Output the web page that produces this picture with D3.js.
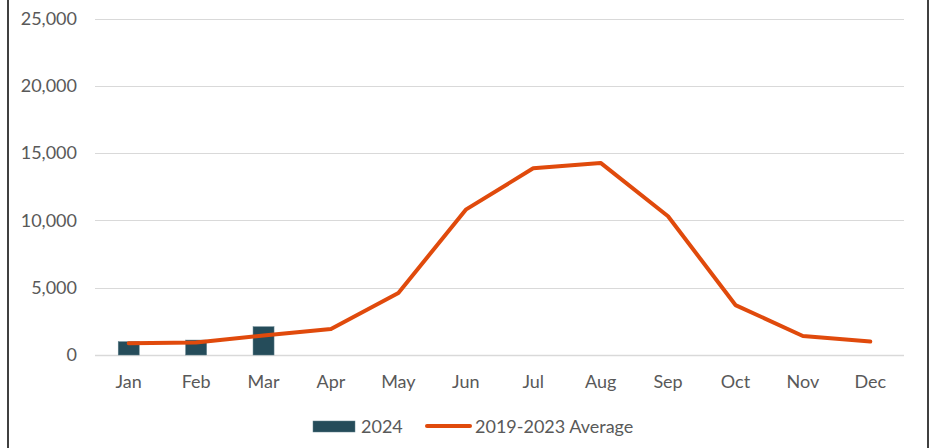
<!DOCTYPE html>
<html>
<head>
<meta charset="utf-8">
<script src="https://cdn.jsdelivr.net/npm/d3@7"></script>
<style>
  body { margin: 0; background: #fff; }
  text { font-family: Lato, "Open Sans", sans-serif; fill: #595959; }
</style>
</head>
<body>
<div id="chart"></div>
<script>
const months = ["Jan", "Feb", "Mar", "Apr", "May", "Jun", "Jul", "Aug", "Sep", "Oct", "Nov", "Dec"];
const values2024 = [990, 1110, 2100];
const avg = [870, 930, 1450, 1930, 4600, 10800, 13870, 14270, 10310, 3710, 1410, 1000];
const yTicks = [0, 5000, 10000, 15000, 20000, 25000];

let width = 932, height = 448;
let margin = { top: 18.5, left: 95, right: 28, bottom: 93 };
const fontSize = "18px";

let svg = d3.select("#chart")
  .append("svg")
  .attr("width", width)
  .attr("height", height);

// outer frame lines
svg.append("line").attr("x1", 8).attr("x2", 8).attr("y1", 0).attr("y2", height)
  .attr("stroke", "#000").attr("stroke-width", 1.5);
svg.append("line").attr("x1", 928).attr("x2", 928).attr("y1", 0).attr("y2", height)
  .attr("stroke", "#000").attr("stroke-width", 1.5);

const x = d3.scaleBand().domain(months).range([margin.left, width - margin.right]);
const y = d3.scaleLinear().domain([0, 25000]).range([height - margin.bottom, margin.top]);

// gridlines
svg.append("g")
  .selectAll("line")
  .data(yTicks)
  .enter()
  .append("line")
  .attr("x1", margin.left)
  .attr("x2", width - margin.right)
  .attr("y1", d => Math.round(y(d)) + 0.5)
  .attr("y2", d => Math.round(y(d)) + 0.5)
  .attr("stroke", "#d9d9d9")
  .attr("stroke-width", d => d === 0 ? 1.5 : 1.2);

// y labels
svg.append("g")
  .selectAll("text")
  .data(yTicks)
  .enter()
  .append("text")
  .attr("x", 77)
  .attr("y", d => y(d))
  .attr("dy", "0.35em")
  .attr("text-anchor", "end")
  .style("font-size", fontSize)
  .text(d => d3.format(",")(d));

// x labels
svg.append("g")
  .selectAll("text")
  .data(months)
  .enter()
  .append("text")
  .attr("x", d => x(d) + x.bandwidth() / 2)
  .attr("y", 382)
  .attr("dy", "0.35em")
  .attr("text-anchor", "middle")
  .style("font-size", fontSize)
  .text(d => d);

// bars
const barW = 21;
svg.append("g")
  .selectAll("rect")
  .data(values2024)
  .enter()
  .append("rect")
  .attr("x", (d, i) => x(months[i]) + x.bandwidth() / 2 - barW / 2)
  .attr("y", d => y(d))
  .attr("width", barW)
  .attr("height", d => y(0) - y(d))
  .attr("fill", "#254c5a")
  .attr("stroke", "#5f7f8a")
  .attr("stroke-width", 0.5);

// average line
const line = d3.line()
  .x((d, i) => x(months[i]) + x.bandwidth() / 2)
  .y(d => y(d));

svg.append("path")
  .datum(avg)
  .attr("d", line)
  .attr("fill", "none")
  .attr("stroke", "#e04a0c")
  .attr("stroke-width", 4)
  .attr("stroke-linecap", "round")
  .attr("stroke-linejoin", "round");

// legend
const lg = svg.append("g");
lg.append("rect").attr("x", 313).attr("y", 421).attr("width", 42).attr("height", 11)
  .attr("fill", "#254c5a").attr("stroke", "#5f7f8a").attr("stroke-width", 0.5);
lg.append("text").attr("x", 361).attr("y", 426.5).attr("dy", "0.35em")
  .style("font-size", fontSize).text("2024");
lg.append("line").attr("x1", 427).attr("x2", 470).attr("y1", 426).attr("y2", 426)
  .attr("stroke", "#e04a0c").attr("stroke-width", 4).attr("stroke-linecap", "round");
lg.append("text").attr("x", 475).attr("y", 426.5).attr("dy", "0.35em")
  .style("font-size", fontSize).text("2019-2023 Average");
</script>
</body>
</html>
